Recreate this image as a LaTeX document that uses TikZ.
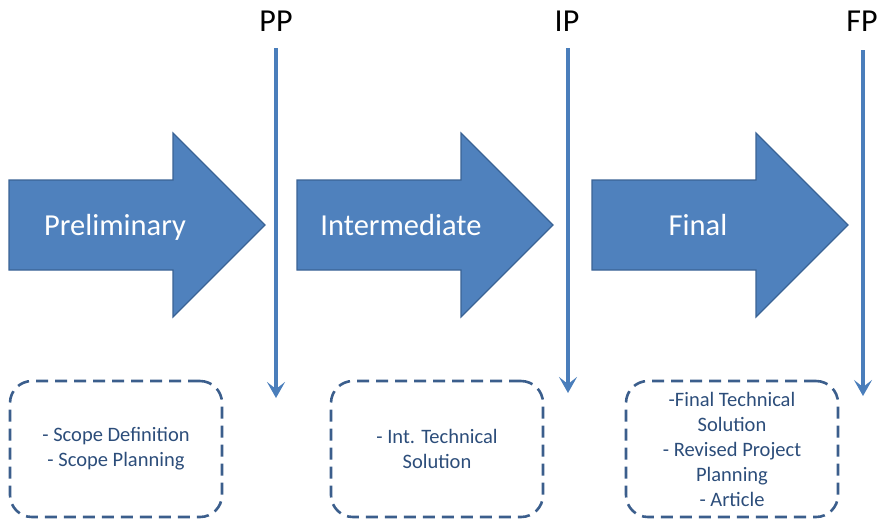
\documentclass[tikz,border=0pt]{standalone}
\usepackage{fontspec}
\setmainfont{Carlito}
\usepackage{xcolor}
\usetikzlibrary{arrows.meta}
\definecolor{phaseblue}{HTML}{4F81BD}
\definecolor{phaseedge}{HTML}{3A6395}
\definecolor{markblue}{HTML}{4A7EBB}
\definecolor{boxblue}{HTML}{3B5E8C}
\definecolor{boxtext}{HTML}{2C4D7A}
\tikzstyle{phase}=[
  fill=phaseblue, draw=phaseedge, line width=1.2pt, line join=miter
]
\tikzstyle{phaselabel}=[
  text=white, anchor=base, font=\fontsize{30.5}{36}\selectfont
]
\tikzstyle{milestone}=[
  draw=markblue, line width=3.5pt, -{Stealth[length=16pt,width=18pt,inset=7pt]}
]
\tikzstyle{marklabel}=[
  font=\fontsize{32}{36}\selectfont
]
\tikzstyle{deliverable}=[
  draw=boxblue, line width=2.6pt, dash pattern=on 12pt off 7pt, rounded corners=22pt,
  minimum width=212pt, minimum height=136pt, align=center, text=boxtext,
  font=\fontsize{20.5}{25}\selectfont
]
\tikzset{
  phasearrow/.pic={
    \draw[phase] (0,-45) -- (164,-45) -- (164,-92) -- (256,0) -- (164,92)
      -- (164,45) -- (0,45) -- cycle;
  }
}

\begin{document}
\begin{tikzpicture}[x=1pt,y=-1pt]
    \useasboundingbox (0,0) rectangle (885,520);
    %Phases
    \pic at (9,225)   {phasearrow};
    \pic at (297,225) {phasearrow};
    \pic at (592,225) {phasearrow};
    \node[phaselabel] (prelim) at (115,235) {Preliminary};
    \node[phaselabel] (inter)  at (401,235) {Intermediate};
    \node[phaselabel] (final)  at (698,235) {Final};

    %Milestones
    \node[marklabel] (pp) at (276,21) {PP};
    \node[marklabel] (ip) at (567,21) {IP};
    \node[marklabel] (fp) at (862,21) {FP};
    \coordinate (pptop) at (276,48);
    \coordinate (ppend) at (276,398);
    \coordinate (iptop) at (568,48);
    \coordinate (ipend) at (568,393);
    \coordinate (fptop) at (863,50);
    \coordinate (fpend) at (863,396);

    %Deliverables
    \node[deliverable] (scope) at (116,449) {- Scope Definition\\- Scope Planning};
    \node[deliverable] (tech)  at (437,449) {- Int. Technical\\Solution};
    \node[deliverable] (result) at (732,449) {-Final Technical\\Solution\\- Revised Project\\Planning\\- Article};

    %Lines
    \draw[milestone] (pptop) -- (ppend);
    \draw[milestone] (iptop) -- (ipend);
    \draw[milestone] (fptop) -- (fpend);
\end{tikzpicture}
\end{document}
